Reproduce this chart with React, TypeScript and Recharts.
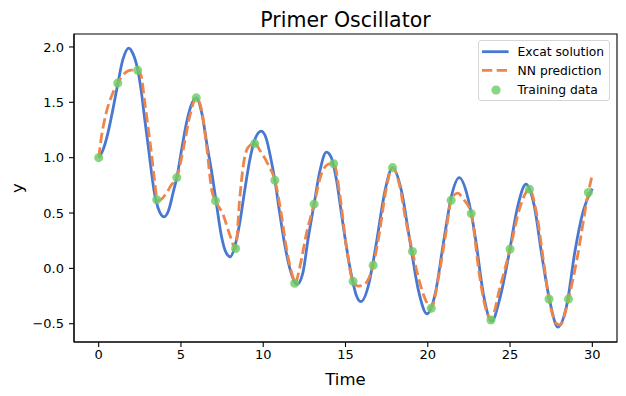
import React from "react";
import { ComposedChart, Line, Scatter, XAxis, YAxis, Legend, ReferenceArea } from "recharts";

const FONT = "DejaVu Sans";
const BLUE = "#4878d0";
const ORANGE = "#ee854a";
const GREEN = "#6acc64";

// exact solution
const exactTime = [
  0, 0.25, 0.55, 0.85, 1.16, 1.46, 1.83, 2.08, 2.38, 2.58, 2.78, 2.99, 3.19, 3.39, 3.6, 3.98,
  4.24, 4.55, 4.75, 5.06, 5.36, 5.67, 5.93, 6.27, 6.6, 6.9, 7.14, 7.45, 7.75, 8.0,
  8.26, 8.56, 8.87, 9.17, 9.48, 9.88, 10.19, 10.49, 10.71, 10.99, 11.3, 11.6, 12.05,
  12.41, 12.71, 13.09, 13.43, 13.84, 14.14, 14.45, 14.75, 15.06, 15.4, 15.65, 15.93,
  16.4, 16.68, 16.9, 17.4, 17.86, 18.4, 18.9, 19.45, 19.95, 20.45, 20.95, 21.45, 21.91,
  22.4, 22.64, 22.9, 23.4, 23.88, 24.4, 24.95, 25.45, 25.97, 26.45, 26.95, 27.45, 27.9,
  28.45, 28.95, 29.45, 30
];
const exactValue = [
  1.0, 1.065, 1.215, 1.425, 1.665, 1.88, 1.99, 1.94, 1.79, 1.61, 1.37, 1.13, 0.89, 0.68, 0.55, 0.465,
  0.52, 0.7, 0.82, 1.09, 1.33, 1.49, 1.54, 1.4, 1.1, 0.84, 0.6, 0.3, 0.14, 0.105,
  0.19, 0.4, 0.7, 0.97, 1.16, 1.24, 1.17, 0.97, 0.795, 0.51, 0.22, 0.01, -0.145,
  -0.04, 0.25, 0.58, 0.87, 1.05, 1.0, 0.8, 0.5, 0.19, -0.09, -0.24, -0.3,
  -0.15, 0.06, 0.25, 0.7, 0.91, 0.7, 0.26, -0.21, -0.41, -0.23, 0.23, 0.66, 0.82,
  0.66, 0.5, 0.27, -0.25, -0.477, -0.26, 0.14, 0.55, 0.76, 0.58, 0.1, -0.32, -0.53,
  -0.33, 0.16, 0.52, 0.72
];

// NN prediction
const nnTime = [
  0, 0.14, 0.45, 0.85, 1.16, 1.57, 1.97, 2.38, 2.58, 2.8, 2.98, 3.19, 3.39, 3.55, 3.69, 4.1,
  4.4, 4.75, 5.16, 5.56, 5.93, 6.27, 6.57, 6.88, 7.1, 7.55, 7.95, 8.32, 8.56, 8.77, 9.07,
  9.48, 9.78, 10.29, 10.71, 11.1, 11.4, 11.81, 11.95, 12.22, 12.62, 13.09, 13.53, 13.94,
  14.28, 14.65, 15.05, 15.46, 15.8, 16.1, 16.68, 17.05, 17.45, 17.86, 18.27, 18.67, 19.07,
  19.48, 19.85, 20.2, 20.69, 21.09, 21.42, 21.8, 22.2, 22.64, 23.13, 23.5, 23.84, 24.39,
  25.0, 25.6, 26.18, 26.62, 27.03, 27.37, 27.84, 28.05, 28.55, 29.05, 29.76, 29.97
];
const nnValue = [
  1.0, 1.16, 1.4, 1.58, 1.675, 1.76, 1.79, 1.79, 1.74, 1.5, 1.3, 1.06, 0.8, 0.63, 0.615, 0.676,
  0.75, 0.82, 1.09, 1.39, 1.54, 1.42, 1.09, 0.7, 0.61, 0.49, 0.31, 0.18, 0.61, 0.91, 1.09,
  1.13, 1.07, 0.94, 0.795, 0.49, 0.19, -0.08, -0.13, 0.01, 0.31, 0.58, 0.85, 0.94,
  0.95, 0.67, 0.2, -0.12, -0.16, -0.15, 0.03, 0.31, 0.7, 0.91, 0.76, 0.43, 0.15,
  -0.11, -0.28, -0.36, -0.05, 0.31, 0.615, 0.68, 0.62, 0.495, -0.05, -0.35, -0.46, -0.17,
  0.174, 0.55, 0.715, 0.49, 0.07, -0.277, -0.5, -0.51, -0.277, 0.07, 0.685, 0.83
];

// training points
const trainTime = [
  0, 1.16, 2.37, 3.53, 4.75, 5.93, 7.1, 8.32, 9.48, 10.71, 11.91, 13.09, 14.28,
  15.46, 16.68, 17.86, 19.07, 20.21, 21.42, 22.64, 23.84, 25.0, 26.18, 27.37, 28.55, 29.76
];
const trainValue = [
  1.0, 1.675, 1.79, 0.62, 0.82, 1.54, 0.61, 0.18, 1.127, 0.795, -0.135, 0.58, 0.945,
  -0.117, 0.027, 0.91, 0.153, -0.36, 0.615, 0.495, -0.466, 0.174, 0.715, -0.277, -0.277, 0.685
];

const xTicks = [0, 5, 10, 15, 20, 25, 30];
const yTicks = [-0.5, 0, 0.5, 1.0, 1.5, 2.0];
const legendLabels = ["Excat solution", "NN prediction", "Training data"];

const X_MIN = -1.5;
const X_MAX = 31.5;
const Y_MIN = -0.665;
const Y_MAX = 2.117;

const exactData = exactTime.map((t, i) => ({ t, y: exactValue[i] }));
const nnData = nnTime.map((t, i) => ({ t, y: nnValue[i] }));
const trainData = trainTime.map((t, i) => ({ t, y: trainValue[i] }));

function LegendBox() {
  const rows = [10.7, 29.3, 49];
  return (
    <div
      style={{
        width: 132,
        height: 61,
        boxSizing: "border-box",
        border: "1px solid #d6d6d6",
        borderRadius: 3,
        background: "rgba(255,255,255,0.8)"
      }}
    >
      <svg width={130} height={59} style={{ display: "block" }}>
        <line x1={3} x2={29.6} y1={rows[0]} y2={rows[0]} stroke={BLUE} strokeWidth={2.8} />
        <line x1={3} x2={29.6} y1={rows[1]} y2={rows[1]} stroke={ORANGE} strokeWidth={2.8} strokeDasharray="10.3 4.4" />
        <circle cx={17} cy={rows[2]} r={4.6} fill={GREEN} fillOpacity={0.8} />
        {legendLabels.map((label, i) => (
          <text key={label} x={38.6} y={rows[i] + 4.4} fontSize={12.3} fontFamily={FONT} fill="#000">
            {label}
          </text>
        ))}
      </svg>
    </div>
  );
}

export default function App() {
  return (
    <div style={{ position: "absolute", left: 0, top: 0, width: 626, height: 396, background: "#fff", fontFamily: FONT }}>
      <ComposedChart width={626} height={396} margin={{ top: 34, right: 9, left: 0, bottom: 0 }}>
        <XAxis
          dataKey="t"
          type="number"
          domain={[X_MIN, X_MAX]}
          ticks={xTicks}
          allowDataOverflow
          height={54}
          tickSize={5}
          tickMargin={3}
          axisLine={{ stroke: "#000", strokeWidth: 1.1 }}
          tickLine={{ stroke: "#000", strokeWidth: 1.1 }}
          tick={{ fill: "#000", fontSize: 13, fontFamily: FONT }}
          label={{ value: "Time", position: "insideBottom", offset: 11, fill: "#000", fontSize: 16.5, fontFamily: FONT }}
        />
        <YAxis
          dataKey="y"
          type="number"
          domain={[Y_MIN, Y_MAX]}
          ticks={yTicks}
          allowDataOverflow
          width={74}
          tickSize={5}
          tickMargin={5}
          tickFormatter={(v) => Number(v).toFixed(1).replace("-", "\u2212")}
          axisLine={{ stroke: "#000", strokeWidth: 1.1 }}
          tickLine={{ stroke: "#000", strokeWidth: 1.1 }}
          tick={{ fill: "#000", fontSize: 13, fontFamily: FONT }}
          label={{ value: "y", angle: -90, position: "insideLeft", offset: 17, fill: "#000", fontSize: 16.5, fontFamily: FONT, style: { textAnchor: "middle" } }}
        />
        <ReferenceArea x1={X_MIN} x2={X_MAX} y1={Y_MIN} y2={Y_MAX} fill="none" fillOpacity={0} stroke="#000" strokeWidth={1.1} />
        <Line
          data={exactData}
          dataKey="y"
          type="monotone"
          stroke={BLUE}
          strokeWidth={2.8}
          dot={false}
          activeDot={false}
          isAnimationActive={false}
        />
        <Line
          data={nnData}
          dataKey="y"
          type="monotone"
          stroke={ORANGE}
          strokeWidth={2.8}
          strokeDasharray="10.3 4.4"
          dot={false}
          activeDot={false}
          isAnimationActive={false}
        />
        <Scatter data={trainData} dataKey="y" fill={GREEN} fillOpacity={0.8} isAnimationActive={false} />
        <Legend
          layout="vertical"
          align="center"
          verticalAlign="middle"
          content={() => <LegendBox />}
          wrapperStyle={{ left: 478, top: 40, width: 132, height: 61 }}
        />
      </ComposedChart>
      <div
        style={{
          position: "absolute",
          left: 74,
          top: 7.7,
          width: 543,
          textAlign: "center",
          fontSize: 20.5,
          lineHeight: "24px",
          color: "#000"
        }}
      >
        Primer Oscillator
      </div>
    </div>
  );
}
